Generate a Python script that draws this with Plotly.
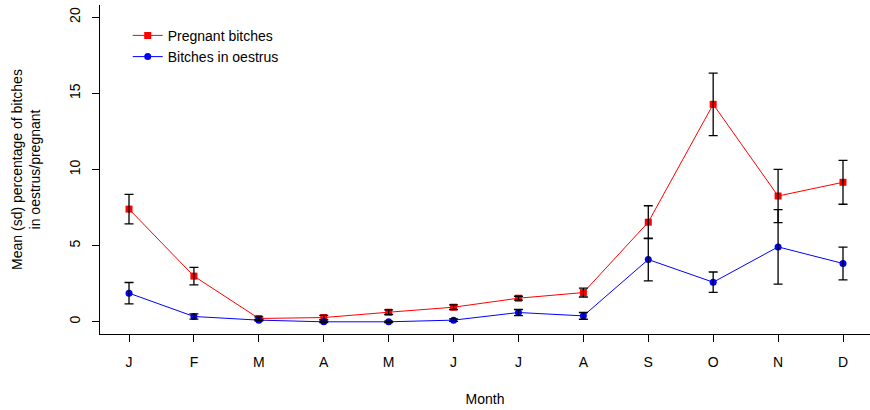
import plotly.graph_objects as go

# Monthly means and standard deviations
months = ["J", "F", "M", "A", "M", "J", "J", "A", "S", "O", "N", "D"]
month_pos = list(range(1, 13))

pregnant_mean = [7.40, 3.00, 0.22, 0.28, 0.63, 0.96, 1.55, 1.92, 6.54, 14.28, 8.26, 9.16]
pregnant_sd = [0.97, 0.58, 0.10, 0.14, 0.15, 0.15, 0.13, 0.29, 1.08, 2.05, 1.75, 1.44]

oestrus_mean = [1.88, 0.35, 0.11, 0.00, 0.00, 0.11, 0.61, 0.39, 4.09, 2.60, 4.92, 3.83]
oestrus_sd = [0.70, 0.17, 0.05, 0.05, 0.05, 0.08, 0.20, 0.22, 1.40, 0.67, 2.45, 1.08]

y_ticks = [0, 5, 10, 15, 20]

FONT = "Liberation Sans, Arial, Helvetica, sans-serif"

fig = go.Figure()

fig.add_trace(go.Scatter(
    x=month_pos, y=pregnant_mean, mode="lines+markers", name="Pregnant bitches",
    line=dict(color="#ff0000", width=1),
    marker=dict(symbol="square", size=7, color="#ff0000"),
))
fig.add_trace(go.Scatter(
    x=month_pos, y=oestrus_mean, mode="lines+markers", name="Bitches in oestrus",
    line=dict(color="#0000ff", width=1),
    marker=dict(symbol="circle", size=7, color="#0000ff"),
))

# error bars drawn on top of the markers
for mean, sd in ((pregnant_mean, pregnant_sd), (oestrus_mean, oestrus_sd)):
    fig.add_trace(go.Scatter(
        x=month_pos, y=mean, mode="markers", showlegend=False, hoverinfo="skip",
        marker=dict(size=1, opacity=0),
        error_y=dict(type="data", array=sd, visible=True, color="black",
                     thickness=1.3, width=4.5),
    ))

fig.update_layout(
    width=870, height=410,
    margin=dict(l=100, r=0, t=5, b=76),
    paper_bgcolor="white", plot_bgcolor="white",
    font=dict(family=FONT, size=14, color="black"),
    showlegend=True,
    legend=dict(x=0.036, y=0.955, xanchor="left", yanchor="top",
                bgcolor="rgba(0,0,0,0)", font=dict(size=14),
                tracegroupgap=0),
    xaxis=dict(
        range=[0.553, 12.416], tickmode="array", tickvals=month_pos, ticktext=months,
        showline=True, linecolor="black", linewidth=1, mirror=False,
        ticks="outside", ticklen=7, tickcolor="black", showgrid=False, zeroline=False,
        ticklabelstandoff=8,
        title=dict(text="Month", font=dict(size=14), standoff=25),
    ),
    yaxis=dict(
        range=[-0.8, 20.8], tickmode="array", tickvals=y_ticks,
        showline=True, linecolor="black", linewidth=1, mirror=False,
        ticks="outside", ticklen=7, tickcolor="black", showgrid=False, zeroline=False,
        tickangle=-90, ticklabelstandoff=6,
        title=dict(text="Mean (sd) percentage of bitches<br>in oestrus/pregnant",
                   font=dict(size=14), standoff=23),
    ),
)

fig.write_html("out.html")
